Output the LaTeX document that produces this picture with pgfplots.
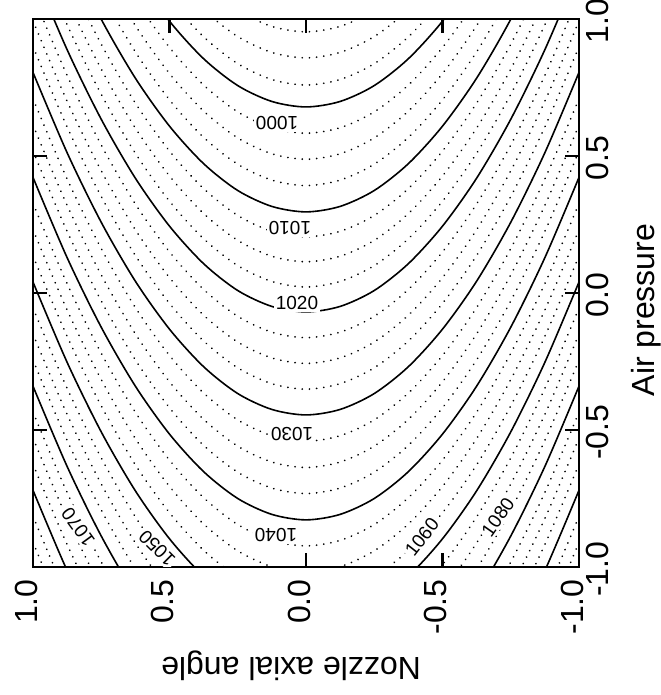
\documentclass[border=0pt]{standalone}
\usepackage{pgfplots}
\pgfplotsset{compat=1.18}
\usepackage{pgfplotstable}
\usepackage{fontspec}
\setmainfont{Liberation Sans}

% contour lines: air pressure at each nozzle angle
\pgfplotstableread{
n      s1000 s1010 s1020 s1030  s1040  s1050  s1060  s1070
-1.000 1.929 1.546 1.181 0.805  0.422  0.040 -0.340 -0.720
-0.875 1.636 1.253 0.888 0.512  0.129 -0.253 -0.633 -1.013
-0.750 1.382 0.999 0.634 0.258 -0.125 -0.507 -0.887 -1.267
-0.625 1.167 0.784 0.419 0.043 -0.340 -0.722 -1.102 -1.482
-0.500 0.992 0.609 0.244 -0.132 -0.515 -0.897 -1.277 -1.657
-0.375 0.855 0.472 0.107 -0.269 -0.652 -1.034 -1.414 -1.794
-0.250 0.757 0.374 0.009 -0.367 -0.750 -1.132 -1.512 -1.892
-0.125 0.699 0.316 -0.049 -0.425 -0.808 -1.190 -1.570 -1.950
 0.000 0.679 0.296 -0.069 -0.445 -0.828 -1.210 -1.590 -1.970
 0.125 0.699 0.316 -0.049 -0.425 -0.808 -1.190 -1.570 -1.950
 0.250 0.757 0.374 0.009 -0.367 -0.750 -1.132 -1.512 -1.892
 0.375 0.855 0.472 0.107 -0.269 -0.652 -1.034 -1.414 -1.794
 0.500 0.992 0.609 0.244 -0.132 -0.515 -0.897 -1.277 -1.657
 0.625 1.167 0.784 0.419 0.043 -0.340 -0.722 -1.102 -1.482
 0.750 1.382 0.999 0.634 0.258 -0.125 -0.507 -0.887 -1.267
 0.875 1.636 1.253 0.888 0.512  0.129 -0.253 -0.633 -1.013
 1.000 1.929 1.546 1.181 0.805  0.422  0.040 -0.340 -0.720
}\solidc

\pgfplotstableread{
n d9925 d9950 d9975 d10025 d10050 d10075 d10125 d10150 d10175 d10225 d10250 d10275 d10325 d10350 d10375 d10425 d10450 d10475 d10525 d10550 d10575 d10625 d10650 d10675 d10725 d10750
-1.000 2.203 2.108 2.009 1.833 1.738 1.642 1.455 1.364 1.272 1.087 0.993 0.899 0.709 0.613 0.518 0.327 0.231 0.135 -0.055 -0.150 -0.245 -0.435 -0.530 -0.625 -0.815 -0.910
-0.875 1.910 1.815 1.716 1.540 1.445 1.349 1.162 1.071 0.979 0.794 0.700 0.606 0.416 0.320 0.225 0.034 -0.062 -0.158 -0.348 -0.443 -0.538 -0.728 -0.823 -0.918 -1.108 -1.203
-0.750 1.656 1.561 1.462 1.286 1.191 1.095 0.908 0.817 0.725 0.540 0.446 0.352 0.162 0.066 -0.029 -0.220 -0.316 -0.412 -0.602 -0.697 -0.792 -0.982 -1.077 -1.172 -1.362 -1.457
-0.625 1.441 1.346 1.247 1.071 0.976 0.880 0.693 0.602 0.510 0.325 0.231 0.137 -0.053 -0.149 -0.244 -0.435 -0.531 -0.627 -0.817 -0.912 -1.007 -1.197 -1.292 -1.387 -1.577 -1.672
-0.500 1.266 1.171 1.072 0.896 0.801 0.705 0.518 0.427 0.335 0.150 0.056 -0.038 -0.228 -0.324 -0.419 -0.610 -0.706 -0.802 -0.992 -1.087 -1.182 -1.372 -1.467 -1.562 -1.752 -1.847
-0.375 1.129 1.034 0.935 0.759 0.664 0.568 0.381 0.290 0.198 0.013 -0.081 -0.175 -0.365 -0.461 -0.556 -0.747 -0.843 -0.939 -1.129 -1.224 -1.319 -1.509 -1.604 -1.699 -1.889 -1.984
-0.250 1.031 0.936 0.837 0.661 0.566 0.470 0.283 0.192 0.100 -0.085 -0.179 -0.273 -0.463 -0.559 -0.654 -0.845 -0.941 -1.037 -1.227 -1.322 -1.417 -1.607 -1.702 -1.797 -1.987 -2.082
-0.125 0.973 0.878 0.779 0.603 0.508 0.412 0.225 0.134 0.042 -0.143 -0.237 -0.331 -0.521 -0.617 -0.712 -0.903 -0.999 -1.095 -1.285 -1.380 -1.475 -1.665 -1.760 -1.855 -2.045 -2.140
 0.000 0.953 0.858 0.759 0.583 0.488 0.392 0.205 0.114 0.022 -0.163 -0.257 -0.351 -0.541 -0.637 -0.732 -0.923 -1.019 -1.115 -1.305 -1.400 -1.495 -1.685 -1.780 -1.875 -2.065 -2.160
 0.125 0.973 0.878 0.779 0.603 0.508 0.412 0.225 0.134 0.042 -0.143 -0.237 -0.331 -0.521 -0.617 -0.712 -0.903 -0.999 -1.095 -1.285 -1.380 -1.475 -1.665 -1.760 -1.855 -2.045 -2.140
 0.250 1.031 0.936 0.837 0.661 0.566 0.470 0.283 0.192 0.100 -0.085 -0.179 -0.273 -0.463 -0.559 -0.654 -0.845 -0.941 -1.037 -1.227 -1.322 -1.417 -1.607 -1.702 -1.797 -1.987 -2.082
 0.375 1.129 1.034 0.935 0.759 0.664 0.568 0.381 0.290 0.198 0.013 -0.081 -0.175 -0.365 -0.461 -0.556 -0.747 -0.843 -0.939 -1.129 -1.224 -1.319 -1.509 -1.604 -1.699 -1.889 -1.984
 0.500 1.266 1.171 1.072 0.896 0.801 0.705 0.518 0.427 0.335 0.150 0.056 -0.038 -0.228 -0.324 -0.419 -0.610 -0.706 -0.802 -0.992 -1.087 -1.182 -1.372 -1.467 -1.562 -1.752 -1.847
 0.625 1.441 1.346 1.247 1.071 0.976 0.880 0.693 0.602 0.510 0.325 0.231 0.137 -0.053 -0.149 -0.244 -0.435 -0.531 -0.627 -0.817 -0.912 -1.007 -1.197 -1.292 -1.387 -1.577 -1.672
 0.750 1.656 1.561 1.462 1.286 1.191 1.095 0.908 0.817 0.725 0.540 0.446 0.352 0.162 0.066 -0.029 -0.220 -0.316 -0.412 -0.602 -0.697 -0.792 -0.982 -1.077 -1.172 -1.362 -1.457
 0.875 1.910 1.815 1.716 1.540 1.445 1.349 1.162 1.071 0.979 0.794 0.700 0.606 0.416 0.320 0.225 0.034 -0.062 -0.158 -0.348 -0.443 -0.538 -0.728 -0.823 -0.918 -1.108 -1.203
 1.000 2.203 2.108 2.009 1.833 1.738 1.642 1.455 1.364 1.272 1.087 0.993 0.899 0.709 0.613 0.518 0.327 0.231 0.135 -0.055 -0.150 -0.245 -0.435 -0.530 -0.625 -0.815 -0.910
}\dottedc

\begin{document}
\begin{tikzpicture}
\useasboundingbox (-16.5pt,-64pt) rectangle (313.5pt,283.5pt);
\begin{axis}[at={(0pt,0pt)}, anchor=south west, scale only axis,
  width=273pt, height=274pt,
  xmin=-1, xmax=1, ymin=-1, ymax=1, x dir=reverse,
  xtick={-1,-0.5,0,0.5,1}, ytick={-1,-0.5,0,0.5,1},
  xticklabels={-1.0,-0.5,0.0,0.5,1.0}, yticklabels={-1.0,-0.5,0.0,0.5,1.0},
  xticklabel pos=lower, yticklabel pos=right, xtick pos=both, ytick pos=both,
  tick align=inside, major tick length=7pt,
  every tick/.style={black, line width=1.2pt},
  axis line style={line width=1.3pt},
  % labels are turned a quarter turn: xshift runs up the page, yshift to the left
  xticklabel style={rotate=90, anchor=east, inner sep=0pt, font=\fontsize{16}{18}\selectfont, xshift=-6pt, yshift=3.5pt},
  yticklabel style={rotate=90, anchor=north, inner sep=0pt, font=\fontsize{16}{18}\selectfont, xshift=-1.2pt, yshift=-3.5pt},
  clip=true]
\pgfplotsinvokeforeach{d9925,d9950,d9975,d10025,d10050,d10075,d10125,d10150,d10175,d10225,d10250,d10275,d10325,d10350,d10375,d10425,d10450,d10475,d10525,d10550,d10575,d10625,d10650,d10675,d10725,d10750}{
  \addplot[black, line width=0.95pt, line cap=round, dash pattern=on 0.01pt off 3.6pt, smooth] table[x=n, y=#1] {\dottedc};
}
\pgfplotsinvokeforeach{s1000,s1010,s1020,s1030,s1040,s1050,s1060,s1070}{
  \addplot[black, line width=0.8pt, smooth] table[x=n, y=#1] {\solidc};
}
\begin{scope}[every node/.style={fill=white, inner sep=1pt, font=\fontsize{9.5}{10}\selectfont}]
\node[rotate=180] at (axis cs:0.106,0.620) {1000};
\node[rotate=180] at (axis cs:0.059,0.237) {1010};
\node at (axis cs:0.033,-0.036) {1020};
\node[rotate=180] at (axis cs:0.051,-0.515) {1030};
\node[rotate=180] at (axis cs:0.110,-0.883) {1040};
\node[rotate=135] at (axis cs:0.546,-0.931) {1050};
\node[rotate=126] at (axis cs:0.835,-0.854) {1070};
\node[rotate=52] at (axis cs:-0.425,-0.891) {1060};
\node[rotate=55] at (axis cs:-0.703,-0.818) {1080};
\end{scope}
\end{axis}
\node[rotate=180, inner sep=0pt, font=\fontsize{16}{18}\selectfont] at (129pt,-49.5pt) {Nozzle axial angle};
\node[rotate=90, inner sep=0pt, font=\fontsize{16}{18}\selectfont] at (306.5pt,128.5pt) {Air pressure};
\end{tikzpicture}
\end{document}
